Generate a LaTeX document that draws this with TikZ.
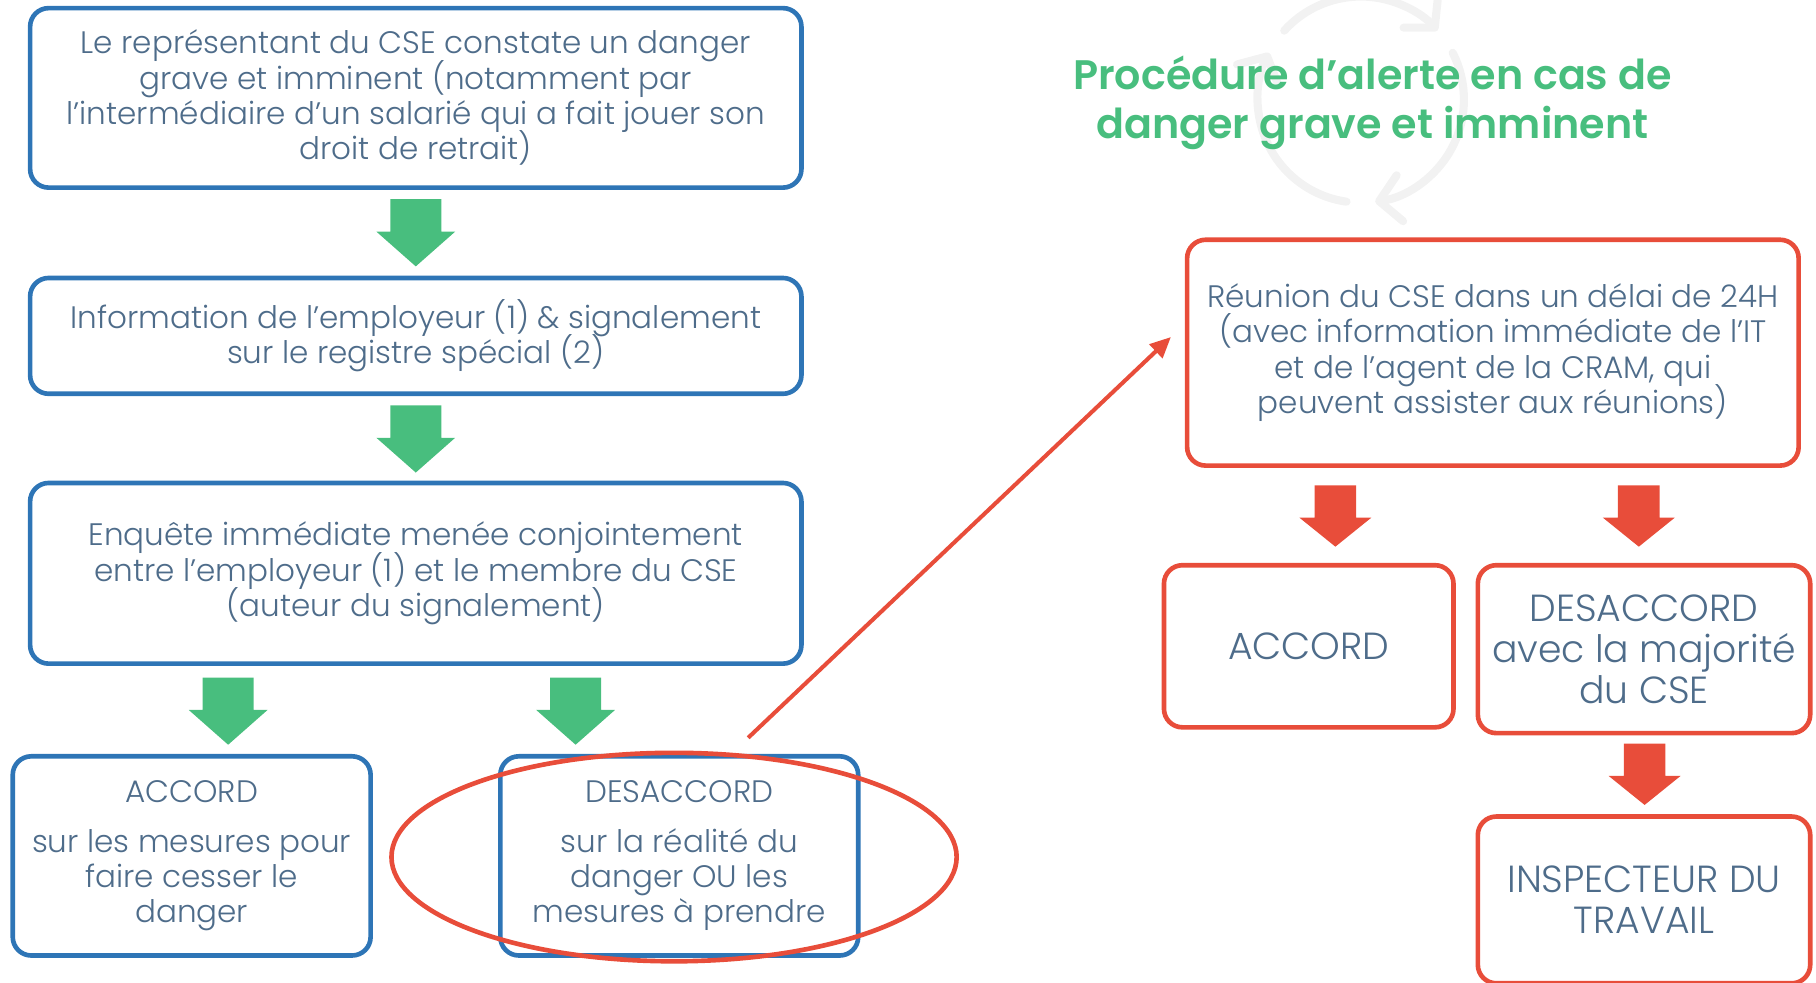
\documentclass[tikz,border=0pt]{standalone}
\usepackage{fontspec}
\setmainfont{Poppins}[UprightFont=* Light, BoldFont=* SemiBold]
\usetikzlibrary{arrows.meta,shapes.geometric}

\definecolor{cseblue}{RGB}{46,117,182}
\definecolor{csetext}{RGB}{78,108,138}
\definecolor{csegreen}{RGB}{72,190,126}
\definecolor{csered}{RGB}{232,77,58}
\definecolor{iconhue}{RGB}{242,242,242}

% fixed line spacing for box texts
\newcommand{\boxfont}{\fontsize{13.4}{15.25}\selectfont\lineskiplimit=-20pt\relax}
\newcommand{\bigboxfont}{\fontsize{16.3}{17.75}\selectfont\lineskiplimit=-20pt\relax}

% block arrows pointing down (x, top)
\newcommand{\greendown}[2]{%
  \fill[csegreen] (#1-22,#2) -- (#1+22,#2) -- (#1+22,#2+28) -- (#1+34,#2+28)
    -- (#1,#2+58) -- (#1-34,#2+28) -- (#1-22,#2+28) -- cycle;}
\newcommand{\reddown}[2]{%
  \fill[csered] (#1-18,#2) -- (#1+18,#2) -- (#1+18,#2+28) -- (#1+31,#2+28)
    -- (#1,#2+53) -- (#1-31,#2+28) -- (#1-18,#2+28) -- cycle;}

\begin{document}
\begin{tikzpicture}[x=0.5pt,y=-0.5pt,
  box/.style={rectangle, rounded corners=8pt, line width=2pt, fill=white,
    text=csetext, align=center, inner sep=0pt, font=\boxfont},
  bluebox/.style={box, draw=cseblue},
  redbox/.style={box, draw=csered},
  bigtext/.style={font=\bigboxfont}]
  \useasboundingbox (0,0) rectangle (1568,848);

  % faint cycle icon behind the title
  \begin{scope}[shift={(1175,86)}, yscale=-1, iconhue, line width=3.5pt,
      line cap=round, -{Straight Barb[length=9pt,width=20pt,round]}]
    \draw (138:89) arc[start angle=138, end angle=42, radius=89];
    \draw (27:89) arc[start angle=27, end angle=-82, radius=89];
    \draw (-98:89) arc[start angle=-98, end angle=-207, radius=89];
  \end{scope}

  \node[text=csegreen, align=center, font=\bfseries\fontsize{17.8}{21}\selectfont]
    (titre) at (1185,89) {Procédure d’alerte en cas de\\danger grave et imminent};

  % left column
  \node[bluebox, minimum width=333pt, minimum height=77.5pt] (constat) at (359,84.5)
    {Le représentant du CSE constate un danger\\ grave et imminent (notamment par\\
     l’intermédiaire d’un salarié qui a fait jouer son\\ droit de retrait)};
  \greendown{359}{172}
  \node[bluebox, minimum width=333pt, minimum height=50pt] (info) at (359,290)
    {Information de l’employeur (1) \& signalement\\ sur le registre spécial (2)};
  \greendown{359}{350}
  \node[bluebox, minimum width=333pt, minimum height=78pt] (enquete) at (359,495)
    {Enquête immédiate menée conjointement\\ entre l’employeur (1) et le membre du CSE\\
     (auteur du signalement)};
  \greendown{197}{585}
  \greendown{497}{585}
  \node[bluebox, minimum width=154.5pt, minimum height=86pt] (accord) at (165.5,739)
    {ACCORD\\[6pt] sur les mesures pour\\ faire cesser le\\ danger};
  \node[bluebox, minimum width=154.5pt, minimum height=86pt] (desaccord) at (586.5,739)
    {DESACCORD\\[6pt] sur la réalité du\\ danger OU les\\ mesures à prendre};
  \node[draw=csered, ellipse, line width=2pt, minimum width=244pt, minimum height=90pt]
    (cercle) at (582,740) {};

  % right column
  \node[redbox, minimum width=264pt, minimum height=97.5pt] (reunion) at (1289,304.5)
    {Réunion du CSE dans un délai de 24H\\ (avec information immédiate de l’IT\\
     et de l’agent de la CRAM, qui\\ peuvent assister aux réunions)};
  \reddown{1153}{419}
  \reddown{1415}{419}
  \node[redbox, bigtext, minimum width=125pt, minimum height=70pt] (accordcse) at (1130,558)
    {ACCORD};
  \node[redbox, bigtext, minimum width=143.5pt, minimum height=72.5pt] (desaccordcse) at (1419.5,560.5)
    {DESACCORD\\ avec la majorité\\ du CSE};
  \reddown{1420}{642}
  \node[redbox, bigtext, minimum width=143.5pt, minimum height=72pt] (inspecteur) at (1419.5,777)
    {INSPECTEUR DU\\ TRAVAIL};

  % alert line towards the meeting
  \coordinate (depart) at (646,637);
  \coordinate (arrivee) at ([xshift=-6pt,yshift=6.75pt]reunion.west);
  \draw[csered, line width=1.75pt, -{Triangle[length=9pt,width=8pt]}] (depart) -- (arrivee);
\end{tikzpicture}
\end{document}
